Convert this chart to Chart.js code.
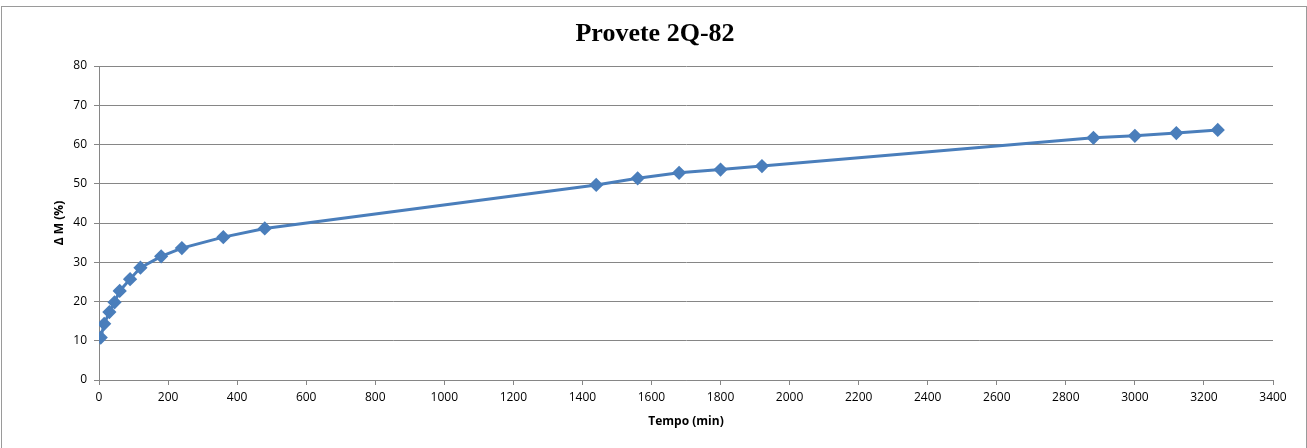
<!DOCTYPE html>
<html>
<head>
<meta charset="utf-8">
<script src="https://cdn.jsdelivr.net/npm/chart.js@4.4.1/dist/chart.umd.min.js"></script>
<style>
  html, body { margin: 0; padding: 0; background: #fff; overflow: hidden; }
  #wrap { position: relative; width: 1307px; height: 448px; overflow: hidden; }
  #frame {
    position: absolute; left: 1px; top: 6px; width: 1306px; height: 460px;
    border: 1px solid #9a9a9a; box-sizing: border-box; pointer-events: none;
  }
</style>
</head>
<body>
<div id="wrap">
  <canvas id="chart" width="1307" height="448"></canvas>
  <div id="frame"></div>
</div>
<script>
const tempo = [5, 15, 30, 45, 60, 90, 120, 180, 240, 360, 480, 1440, 1560, 1680, 1800, 1920, 2880, 3000, 3120, 3240];
const deltaM = [10.8, 14.3, 17.3, 19.8, 22.7, 25.7, 28.6, 31.5, 33.6, 36.4, 38.6, 49.7, 51.4, 52.8, 53.6, 54.5, 61.7, 62.2, 62.9, 63.7];
const xTicks = { min: 0, max: 3400, step: 200 };
const yTicks = { min: 0, max: 80, step: 10 };

const labelFont = { family: "'Open Sans', 'DejaVu Sans', sans-serif", size: 12 };
const axisTitleFont = { family: "'Open Sans', 'DejaVu Sans', sans-serif", size: 12, weight: "bold" };
const gridGray = "#868686";

const ctx = document.getElementById("chart").getContext("2d");
new Chart(ctx, {
  type: "scatter",
  data: {
    datasets: [
      {
        label: "ΔM",
        data: tempo.map((t, i) => ({ x: t, y: deltaM[i] })),
        showLine: true,
        borderColor: "#4a7ebb",
        backgroundColor: "#4a7ebb",
        borderWidth: 3,
        pointStyle: "rectRot",
        pointRadius: 5,
        pointHoverRadius: 5,
        tension: 0,
      },
    ],
  },
  options: {
    responsive: false,
    animation: false,
    devicePixelRatio: 1,
    layout: { padding: { top: 66, right: 34, bottom: 0, left: 0 } },
    plugins: {
      legend: { display: false },
      tooltip: { enabled: false },
      title: { display: false },
    },
    scales: {
      x: {
        type: "linear",
        min: xTicks.min,
        max: xTicks.max,
        ticks: { stepSize: xTicks.step, font: labelFont, color: "#000", padding: 5, maxRotation: 0, callback: (v) => String(v) },
        grid: { display: true, drawOnChartArea: false, drawTicks: true, tickLength: 5, color: gridGray },
        border: { color: gridGray },
        title: { display: true, text: "Tempo (min)", font: axisTitleFont, color: "#000", padding: { top: 4, bottom: 19 } },
        afterFit: (scale) => { scale.height = 68; },
      },
      y: {
        min: yTicks.min,
        max: yTicks.max,
        ticks: { stepSize: yTicks.step, font: labelFont, color: "#000", padding: 7, callback: (v) => String(v) },
        grid: { color: gridGray, tickLength: 5 },
        border: { color: gridGray },
        title: { display: true, text: "Δ M (%)", font: axisTitleFont, color: "#000", padding: { top: 52, bottom: 0 } },
        afterFit: (scale) => { scale.width = 99; },
      },
    },
  },
  plugins: [
    {
      id: "chartTitle",
      afterDraw(chart) {
        const c = chart.ctx;
        c.save();
        c.font = "bold 26px 'Liberation Serif', 'Times New Roman', serif";
        c.fillStyle = "#000";
        c.textAlign = "center";
        c.textBaseline = "middle";
        c.fillText("Provete 2Q-82", 655, 34);
        c.restore();
      },
    },
  ],
});
</script>
</body>
</html>
